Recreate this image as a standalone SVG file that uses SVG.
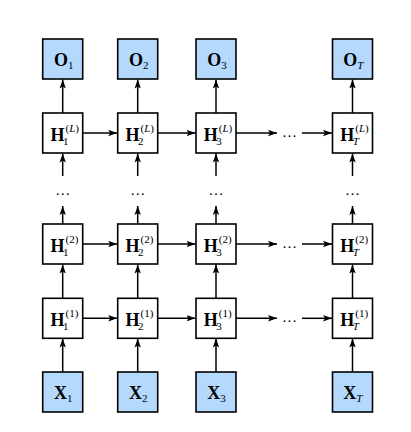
<svg xmlns="http://www.w3.org/2000/svg" width="411" height="432" viewBox="0 0 411 432">
<defs>
<marker id="ah" markerUnits="userSpaceOnUse" markerWidth="10" markerHeight="8" refX="9" refY="4" orient="auto">
<path d="M0,0.8 L9,4 L0,7.2 L2,4 z" fill="#000"/>
</marker>
<style>
.box{stroke:#000;stroke-width:1.6;}
.io{fill:#b5d8fd;}
.h{fill:#fff;}
.c{stroke:#000;stroke-width:1.5;fill:none;marker-end:url(#ah);}
text{font-family:"Liberation Serif","Times New Roman",serif;fill:#000;}
.m{font-weight:bold;font-size:18px;}
.s{font-size:11px;}
.d{font-size:15px;}
</style>
</defs>
<rect width="411" height="432" fill="#fff"/>
<g id="connectors">
<!-- vertical X -> H1 -->
<line class="c" x1="62.7" y1="372" x2="62.7" y2="338.5"/>
<line class="c" x1="137.7" y1="372" x2="137.7" y2="338.5"/>
<line class="c" x1="216" y1="372" x2="216" y2="338.5"/>
<line class="c" x1="352.5" y1="372" x2="352.5" y2="338.5"/>
<!-- H1 -> H2 -->
<line class="c" x1="62.7" y1="298" x2="62.7" y2="264.5"/>
<line class="c" x1="137.7" y1="298" x2="137.7" y2="264.5"/>
<line class="c" x1="216" y1="298" x2="216" y2="264.5"/>
<line class="c" x1="352.5" y1="298" x2="352.5" y2="264.5"/>
<!-- H2 -> dots -->
<line class="c" x1="62.7" y1="224" x2="62.7" y2="206"/>
<line class="c" x1="137.7" y1="224" x2="137.7" y2="206"/>
<line class="c" x1="216" y1="224" x2="216" y2="206"/>
<line class="c" x1="352.5" y1="224" x2="352.5" y2="206"/>
<!-- dots -> HL -->
<line class="c" x1="62.7" y1="176" x2="62.7" y2="153.5"/>
<line class="c" x1="137.7" y1="176" x2="137.7" y2="153.5"/>
<line class="c" x1="216" y1="176" x2="216" y2="153.5"/>
<line class="c" x1="352.5" y1="176" x2="352.5" y2="153.5"/>
<!-- HL -> O -->
<line class="c" x1="62.7" y1="113" x2="62.7" y2="79.5"/>
<line class="c" x1="137.7" y1="113" x2="137.7" y2="79.5"/>
<line class="c" x1="216" y1="113" x2="216" y2="79.5"/>
<line class="c" x1="352.5" y1="113" x2="352.5" y2="79.5"/>
<!-- horizontal rows -->
<line class="c" x1="82.7" y1="133" x2="117.2" y2="133"/>
<line class="c" x1="157.7" y1="133" x2="195.5" y2="133"/>
<line class="c" x1="236" y1="133" x2="277" y2="133"/>
<line class="c" x1="302" y1="133" x2="332" y2="133"/>
<line class="c" x1="82.7" y1="244" x2="117.2" y2="244"/>
<line class="c" x1="157.7" y1="244" x2="195.5" y2="244"/>
<line class="c" x1="236" y1="244" x2="277" y2="244"/>
<line class="c" x1="302" y1="244" x2="332" y2="244"/>
<line class="c" x1="82.7" y1="318.3" x2="117.2" y2="318.3"/>
<line class="c" x1="157.7" y1="318.3" x2="195.5" y2="318.3"/>
<line class="c" x1="236" y1="318.3" x2="277" y2="318.3"/>
<line class="c" x1="302" y1="318.3" x2="332" y2="318.3"/>
</g>
<g id="dots">
<text class="d" x="289.5" y="137" text-anchor="middle">…</text>
<text class="d" x="289.5" y="248" text-anchor="middle">…</text>
<text class="d" x="289.5" y="322" text-anchor="middle">…</text>
<text class="d" x="62.7" y="195" text-anchor="middle">…</text>
<text class="d" x="137.7" y="195" text-anchor="middle">…</text>
<text class="d" x="216" y="195" text-anchor="middle">…</text>
<text class="d" x="352.5" y="195" text-anchor="middle">…</text>
</g>
<!-- O row -->
<g id="O1"><rect class="box io" x="42.7" y="39" width="40" height="40"/><text x="54" y="65.5"><tspan class="m">O</tspan><tspan class="s" dy="3">1</tspan></text></g>
<g id="O2"><rect class="box io" x="117.7" y="39" width="40" height="40"/><text x="129" y="65.5"><tspan class="m">O</tspan><tspan class="s" dy="3">2</tspan></text></g>
<g id="O3"><rect class="box io" x="196" y="39" width="40" height="40"/><text x="207.3" y="65.5"><tspan class="m">O</tspan><tspan class="s" dy="3">3</tspan></text></g>
<g id="OT"><rect class="box io" x="332.5" y="39" width="40" height="40"/><text x="343.3" y="65.5"><tspan class="m">O</tspan><tspan class="s" dy="3" font-style="italic">T</tspan></text></g>
<!-- HL row -->
<g id="H1L"><rect class="box h" x="42.7" y="113" width="40" height="40"/><text class="m" x="50.5" y="141">H</text><text class="s" x="63" y="144.5">1</text><text class="s" x="65.5" y="131.5">(<tspan font-style="italic">L</tspan>)</text></g>
<g id="H2L"><rect class="box h" x="117.7" y="113" width="40" height="40"/><text class="m" x="125.5" y="141">H</text><text class="s" x="138" y="144.5">2</text><text class="s" x="140.5" y="131.5">(<tspan font-style="italic">L</tspan>)</text></g>
<g id="H3L"><rect class="box h" x="196" y="113" width="40" height="40"/><text class="m" x="203.8" y="141">H</text><text class="s" x="216.3" y="144.5">3</text><text class="s" x="218.8" y="131.5">(<tspan font-style="italic">L</tspan>)</text></g>
<g id="HTL"><rect class="box h" x="332.5" y="113" width="40" height="40"/><text class="m" x="340.3" y="141">H</text><text class="s" x="352.8" y="144.5" font-style="italic">T</text><text class="s" x="355.3" y="131.5">(<tspan font-style="italic">L</tspan>)</text></g>
<!-- H2 row -->
<g id="H12"><rect class="box h" x="42.7" y="224" width="40" height="40"/><text class="m" x="50.5" y="252">H</text><text class="s" x="63" y="255.5">1</text><text class="s" x="65.5" y="242.5">(2)</text></g>
<g id="H22"><rect class="box h" x="117.7" y="224" width="40" height="40"/><text class="m" x="125.5" y="252">H</text><text class="s" x="138" y="255.5">2</text><text class="s" x="140.5" y="242.5">(2)</text></g>
<g id="H32"><rect class="box h" x="196" y="224" width="40" height="40"/><text class="m" x="203.8" y="252">H</text><text class="s" x="216.3" y="255.5">3</text><text class="s" x="218.8" y="242.5">(2)</text></g>
<g id="HT2"><rect class="box h" x="332.5" y="224" width="40" height="40"/><text class="m" x="340.3" y="252">H</text><text class="s" x="352.8" y="255.5" font-style="italic">T</text><text class="s" x="355.3" y="242.5">(2)</text></g>
<!-- H1 row -->
<g id="H11"><rect class="box h" x="42.7" y="298.3" width="40" height="40"/><text class="m" x="50.5" y="326.3">H</text><text class="s" x="63" y="329.8">1</text><text class="s" x="65.5" y="316.8">(1)</text></g>
<g id="H21"><rect class="box h" x="117.7" y="298.3" width="40" height="40"/><text class="m" x="125.5" y="326.3">H</text><text class="s" x="138" y="329.8">2</text><text class="s" x="140.5" y="316.8">(1)</text></g>
<g id="H31"><rect class="box h" x="196" y="298.3" width="40" height="40"/><text class="m" x="203.8" y="326.3">H</text><text class="s" x="216.3" y="329.8">3</text><text class="s" x="218.8" y="316.8">(1)</text></g>
<g id="HT1"><rect class="box h" x="332.5" y="298.3" width="40" height="40"/><text class="m" x="340.3" y="326.3">H</text><text class="s" x="352.8" y="329.8" font-style="italic">T</text><text class="s" x="355.3" y="316.8">(1)</text></g>
<!-- X row -->
<g id="X1"><rect class="box io" x="42.7" y="372" width="40" height="40"/><text x="54" y="398.5"><tspan class="m">X</tspan><tspan class="s" dy="3">1</tspan></text></g>
<g id="X2"><rect class="box io" x="117.7" y="372" width="40" height="40"/><text x="129" y="398.5"><tspan class="m">X</tspan><tspan class="s" dy="3">2</tspan></text></g>
<g id="X3"><rect class="box io" x="196" y="372" width="40" height="40"/><text x="207.3" y="398.5"><tspan class="m">X</tspan><tspan class="s" dy="3">3</tspan></text></g>
<g id="XT"><rect class="box io" x="332.5" y="372" width="40" height="40"/><text x="343.3" y="398.5"><tspan class="m">X</tspan><tspan class="s" dy="3" font-style="italic">T</tspan></text></g>
</svg>
